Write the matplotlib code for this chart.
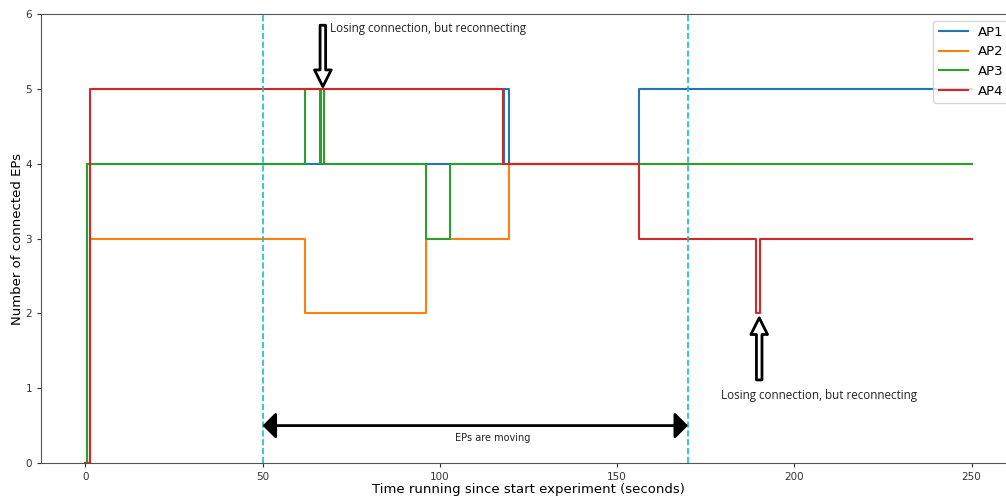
import matplotlib
matplotlib.use("Agg")
import matplotlib.pyplot as plt

# Step series: breakpoints (seconds) and number of connected EPs from each breakpoint on
ap1_t = [0, 0.6, 118.0, 119.6, 156.3, 250]
ap1_v = [0, 4, 5, 4, 5, 5]

ap2_t = [0, 1.2, 61.9, 96.2, 119.6, 250]
ap2_v = [0, 3, 2, 3, 4, 4]

ap3_t = [0, 0.6, 61.9, 66.1, 66.6, 67.4, 96.2, 103.0, 250]
ap3_v = [0, 4, 5, 4, 5, 4, 3, 4, 4]

ap4_t = [0, 1.2, 117.9, 156.3, 189.3, 190.2, 250]
ap4_v = [0, 5, 4, 3, 2, 3, 3]

series_names = ["AP1", "AP2", "AP3", "AP4"]
moving_start, moving_end = 50, 170
x_ticks = [0, 50, 100, 150, 200, 250]
y_ticks = [0, 1, 2, 3, 4, 5, 6]

fig = plt.figure(figsize=(10.06, 4.97), dpi=100)
ax = fig.add_axes([0.0408, 0.0684, 0.969, 0.9034])

colors = ["#1f77b4", "#ff7f0e", "#2ca02c", "#d62728"]
for (t, v), name, c in zip([(ap1_t, ap1_v), (ap2_t, ap2_v), (ap3_t, ap3_v), (ap4_t, ap4_v)],
                           series_names, colors):
    ax.step(t, v, where="post", label=name, color=c, lw=1.5)

ax.axvline(moving_start, color="#17becf", ls="--", lw=1.2)
ax.axvline(moving_end, color="#17becf", ls="--", lw=1.2)

ax.set_xlim(-12.5, 262.5)
ax.set_ylim(0, 6)
ax.set_xticks(x_ticks)
ax.set_yticks(y_ticks)
ax.tick_params(labelsize=7.5, colors="#333333", length=3)
for sp in ["left", "bottom", "top"]:
    ax.spines[sp].set_color("#555555")

ax.set_xlabel("Time running since start experiment (seconds)", fontsize=9.5, labelpad=0.5)
ax.set_ylabel("Number of connected EPs", fontsize=9.5, labelpad=1)

# double-headed arrow marking the moving phase
ax.annotate("", xy=(moving_start, 0.5), xytext=(moving_end, 0.5),
            arrowprops=dict(arrowstyle="<|-|>,head_length=0.4,head_width=0.4",
                            color="black", lw=2, mutation_scale=20,
                            shrinkA=0, shrinkB=0))
ax.text(115, 0.34, "EPs are moving", fontsize=7, ha="center", va="center", color="#222222")

hollow = dict(facecolor="white", edgecolor="black", lw=2, width=4, headwidth=12, headlength=12)
ax.annotate("", xy=(67, 5.03), xytext=(67, 5.85), arrowprops=hollow)
ax.text(69, 5.8, "Losing connection, but reconnecting", fontsize=8.4,
        family="Open Sans", ha="left", va="center", color="#222222")

ax.annotate("", xy=(190.1, 1.94), xytext=(190.1, 1.11), arrowprops=hollow)
ax.text(179.4, 0.9, "Losing connection, but reconnecting", fontsize=8.4,
        family="Open Sans", ha="left", va="center", color="#222222")

ax.legend(loc="upper right", fontsize=9.5, handlelength=2.2, borderaxespad=0.5)

fig.savefig("out.png", dpi=100)
